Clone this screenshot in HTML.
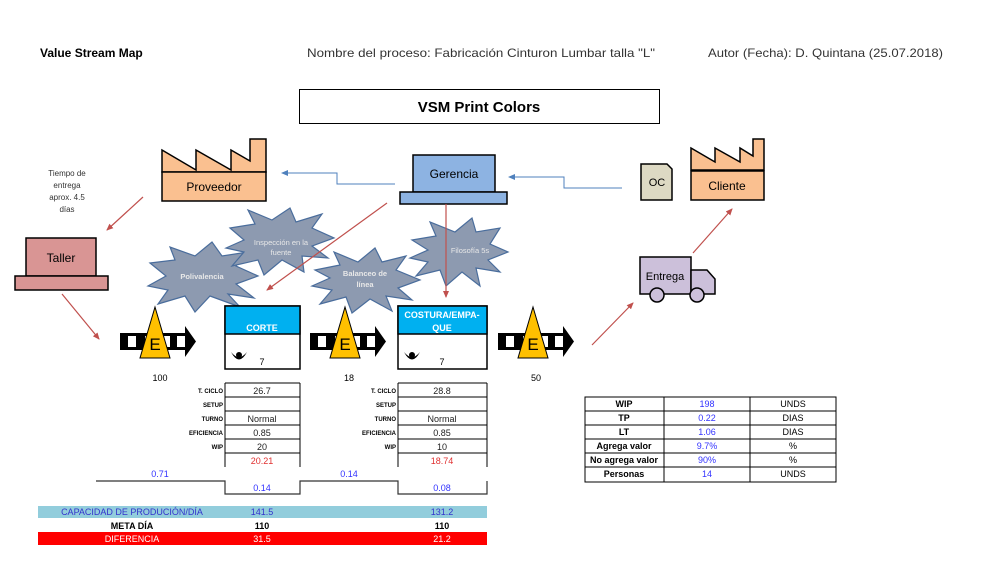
<!DOCTYPE html>
<html><head><meta charset="utf-8"><style>
body{margin:0;background:#fff}
svg{display:block;font-family:"Liberation Sans",sans-serif}
</style></head><body>
<svg width="982" height="561" viewBox="0 0 982 561" xmlns="http://www.w3.org/2000/svg">
<defs>
<marker id="ar" markerWidth="8" markerHeight="8" refX="6" refY="3" orient="auto" markerUnits="userSpaceOnUse"><path d="M0,0 L7,3 L0,6 z" fill="#c0504d"/></marker>
<marker id="ab" markerWidth="8" markerHeight="8" refX="6" refY="3" orient="auto" markerUnits="userSpaceOnUse"><path d="M0,0 L7,3 L0,6 z" fill="#4f81bd"/></marker>
<g id="inv">
<rect x="0" y="0" width="67" height="17" fill="#000"/>
<rect x="8" y="3" width="8" height="11" fill="#fff"/><rect x="25" y="3" width="8" height="11" fill="#fff"/><rect x="42" y="3" width="8" height="11" fill="#fff"/><rect x="57" y="3" width="8" height="11" fill="#fff"/>
<path d="M65,-7 L76,8.5 L65,24 z" fill="#000"/>
<path d="M35,-26 L50,25 L20,25 z" fill="#ffc000" stroke="#000" stroke-width="1"/>
<text x="35" y="17" font-size="17" text-anchor="middle">E</text>
</g>
</defs>
<g font-size="12">
<text x="40" y="57" font-weight="bold" font-size="12">Value Stream Map</text>
<text x="307" y="57" fill="#333" textLength="348" lengthAdjust="spacingAndGlyphs">Nombre del proceso: Fabricación Cinturon Lumbar talla "L"</text>
<text x="708" y="57" fill="#333" textLength="235" lengthAdjust="spacingAndGlyphs">Autor (Fecha):  D. Quintana (25.07.2018)</text>
</g>
<rect x="299.5" y="89.5" width="360" height="34" fill="#fff" stroke="#000"/>
<text x="479" y="112" font-size="15" font-weight="bold" text-anchor="middle">VSM Print Colors</text>

<path d="M162,150 L196,170 L196,150 L231,170 L231,150 L250,161 L250,139 L266,139 L266,172 L162,172 z" fill="#fac090" stroke="#000" stroke-width="1.5"/>
<rect x="162" y="172" width="104" height="29" fill="#fac090" stroke="#000" stroke-width="1.5"/>
<text x="214" y="191" font-size="12" text-anchor="middle">Proveedor</text>
<path d="M691,148 L715,162 L715,148 L740,162 L740,148 L753,156 L753,139 L764,139 L764,170 L691,170 z" fill="#fac090" stroke="#000" stroke-width="1.5"/>
<rect x="691" y="171" width="73" height="29" fill="#fac090" stroke="#000" stroke-width="1.5"/>
<text x="727" y="190" font-size="12" text-anchor="middle">Cliente</text>
<path d="M641,164 L667,164 L672,169 L672,200 L641,200 z" fill="#ddd9c3" stroke="#000" stroke-width="1.5"/>
<text x="657" y="186" font-size="11" text-anchor="middle">OC</text>
<rect x="413" y="155" width="82" height="37" fill="#8db3e2" stroke="#000" stroke-width="1.5"/>
<rect x="400" y="192" width="107" height="12" fill="#8db3e2" stroke="#000" stroke-width="1.5"/>
<text x="454" y="178" font-size="12" text-anchor="middle">Gerencia</text>
<rect x="26" y="238" width="70" height="38" fill="#d99594" stroke="#000" stroke-width="1.5"/>
<rect x="15" y="276" width="93" height="14" fill="#d99594" stroke="#000" stroke-width="1.5"/>
<text x="61" y="262" font-size="12" text-anchor="middle">Taller</text>
<g font-size="8" text-anchor="middle" fill="#333">
<text x="67" y="176">Tiempo de</text><text x="67" y="188">entrega</text><text x="67" y="200">aprox. 4.5</text><text x="67" y="212">días</text>
</g>
<rect x="640" y="257" width="51" height="37" fill="#ccc0da" stroke="#000" stroke-width="1.5"/>
<path d="M691,270 L707,270 L715,279 L715,294 L691,294 z" fill="#ccc0da" stroke="#000" stroke-width="1.5"/>
<circle cx="657" cy="295" r="7" fill="#ccc0da" stroke="#000" stroke-width="1.5"/>
<circle cx="697" cy="295" r="7" fill="#ccc0da" stroke="#000" stroke-width="1.5"/>
<text x="665" y="280" font-size="11" text-anchor="middle">Entrega</text>

<path d="M395,184 L337,184 L337,173 L282,173" fill="none" stroke="#4f81bd" stroke-width="1" marker-end="url(#ab)"/>
<path d="M622,188 L564,188 L564,177 L509,177" fill="none" stroke="#4f81bd" stroke-width="1" marker-end="url(#ab)"/>

<g fill="#8d9ab0" stroke="#4a6d9c" stroke-width="1.2">
<path d="M150,263 L175,260 L170,247 L195,256 L212,242 L222,256 L248,252 L236,266 L258,276 L236,284 L254,298 L228,294 L240,307 L210,296 L195,312 L185,296 L158,304 L168,290 L148,286 L166,276 z"/>
<path d="M230,228 L255,224 L248,210 L272,220 L290,208 L296,222 L322,214 L312,228 L334,238 L312,246 L328,258 L302,256 L304,272 L282,260 L264,275 L258,260 L232,266 L244,252 L226,248 L244,240 z"/>
<path d="M315,270 L340,265 L334,252 L358,262 L375,248 L382,262 L406,256 L396,270 L420,280 L398,288 L412,300 L386,296 L392,311 L370,299 L352,313 L346,297 L320,304 L332,290 L312,286 L330,278 z"/>
<path d="M412,240 L436,236 L430,222 L455,232 L472,218 L476,232 L500,228 L490,244 L508,252 L488,260 L500,272 L476,268 L480,286 L462,272 L446,286 L440,270 L416,276 L428,262 L410,258 L428,250 z"/>
</g>
<g font-size="7.5" fill="#e8e8e8" text-anchor="middle" font-weight="bold">
<text x="202" y="279">Polivalencia</text>
<text x="281" y="245" font-weight="normal">Inspección en la</text><text x="281" y="255" font-weight="normal">fuente</text>
<text x="365" y="276">Balanceo de</text><text x="365" y="287">línea</text>
<text x="470" y="253" font-weight="normal">Filosofía  5s</text>
</g>

<g stroke="#c0504d" stroke-width="1.2" fill="none" marker-end="url(#ar)">
<line x1="143" y1="197" x2="107" y2="230"/>
<line x1="62" y1="294" x2="99" y2="339"/>
<line x1="387" y1="203" x2="267" y2="290"/>
<line x1="446" y1="204" x2="446" y2="297"/>
<line x1="592" y1="345" x2="633" y2="303"/>
<line x1="693" y1="253" x2="732" y2="209"/>
</g>

<use href="#inv" x="120" y="333"/>
<use href="#inv" x="310" y="333"/>
<use href="#inv" x="498" y="333"/>
<g font-size="9" text-anchor="middle"><text x="160" y="381">100</text><text x="349" y="381">18</text><text x="536" y="381">50</text></g>

<rect x="225" y="306" width="75" height="63" fill="#fff" stroke="#000" stroke-width="1.5"/>
<rect x="225" y="306" width="75" height="28" fill="#00b0f0" stroke="#000" stroke-width="1.5"/>
<text x="262" y="331" font-size="9" fill="#fff" text-anchor="middle" font-weight="bold">CORTE</text>
<rect x="398" y="306" width="89" height="63" fill="#fff" stroke="#000" stroke-width="1.5"/>
<rect x="398" y="306" width="89" height="28" fill="#00b0f0" stroke="#000" stroke-width="1.5"/>
<text x="442" y="318" font-size="9" fill="#fff" text-anchor="middle" font-weight="bold">COSTURA/EMPA-</text>
<text x="442" y="331" font-size="9" fill="#fff" text-anchor="middle" font-weight="bold">QUE</text>
<g fill="#000">
<path d="M231,352 Q239,367 247,352 Q239,362 231,352z"/><circle cx="239" cy="355" r="3"/>
<path d="M404,352 Q412,367 420,352 Q412,362 404,352z"/><circle cx="412" cy="355" r="3"/>
</g>
<text x="262" y="365" font-size="9" text-anchor="middle">7</text>
<text x="442" y="365" font-size="9" text-anchor="middle">7</text>

<g stroke="#000" stroke-width="1" fill="none">
<path d="M225,383H300M225,397H300M225,411H300M225,425H300M225,439H300M225,453H300M225,383V467M300,383V467"/>
<path d="M398,383H487M398,397H487M398,411H487M398,425H487M398,439H487M398,453H487M398,383V467M487,383V467"/>
<path d="M96,481H225V494H300V481H398V494H487V481" stroke="#333" stroke-width="1.2"/>
</g>
<g font-size="6" font-weight="bold" text-anchor="end">
<text x="223" y="393">T. CICLO</text><text x="223" y="407">SETUP</text><text x="223" y="421">TURNO</text><text x="223" y="435">EFICIENCIA</text><text x="223" y="449">WIP</text>
<text x="396" y="393">T. CICLO</text><text x="396" y="407">SETUP</text><text x="396" y="421">TURNO</text><text x="396" y="435">EFICIENCIA</text><text x="396" y="449">WIP</text>
</g>
<g font-size="9" text-anchor="middle" fill="#222">
<text x="262" y="394">26.7</text><text x="262" y="422">Normal</text><text x="262" y="436">0.85</text><text x="262" y="450">20</text>
<text x="262" y="464" fill="#e03030">20.21</text>
<text x="442" y="394">28.8</text><text x="442" y="422">Normal</text><text x="442" y="436">0.85</text><text x="442" y="450">10</text>
<text x="442" y="464" fill="#e03030">18.74</text>
</g>
<g font-size="9" text-anchor="middle" fill="#3333ff">
<text x="160" y="477">0.71</text><text x="262" y="491">0.14</text><text x="349" y="477">0.14</text><text x="442" y="491">0.08</text>
</g>

<rect x="38" y="506" width="449" height="12" fill="#92cddc"/>
<rect x="38" y="532" width="449" height="13" fill="#ff0000"/>
<g font-size="9" text-anchor="middle">
<text x="132" y="515" fill="#3333cc">CAPACIDAD DE PRODUCIÓN/DÍA</text>
<text x="262" y="515" fill="#3333cc">141.5</text><text x="442" y="515" fill="#3333cc">131.2</text>
<text x="132" y="529" font-weight="bold">META DÍA</text>
<text x="262" y="529" font-weight="bold">110</text><text x="442" y="529" font-weight="bold">110</text>
<text x="132" y="542" fill="#fff">DIFERENCIA</text>
<text x="262" y="542" fill="#fff">31.5</text><text x="442" y="542" fill="#fff">21.2</text>
</g>

<g stroke="#000" stroke-width="1" fill="none">
<rect x="585" y="397" width="251" height="85"/>
<path d="M585,411H836M585,425H836M585,439H836M585,453H836M585,467H836M664,397V482M750,397V482"/>
</g>
<g font-size="9" text-anchor="middle">
<g font-weight="bold"><text x="624" y="407">WIP</text><text x="624" y="421">TP</text><text x="624" y="435">LT</text><text x="624" y="449">Agrega valor</text><text x="624" y="463">No agrega valor</text><text x="624" y="477">Personas</text></g>
<g fill="#3333ff"><text x="707" y="407">198</text><text x="707" y="421">0.22</text><text x="707" y="435">1.06</text><text x="707" y="449">9.7%</text><text x="707" y="463">90%</text><text x="707" y="477">14</text></g>
<text x="793" y="407">UNDS</text><text x="793" y="421">DIAS</text><text x="793" y="435">DIAS</text><text x="793" y="449">%</text><text x="793" y="463">%</text><text x="793" y="477">UNDS</text>
</g>
</svg>
</body></html>
